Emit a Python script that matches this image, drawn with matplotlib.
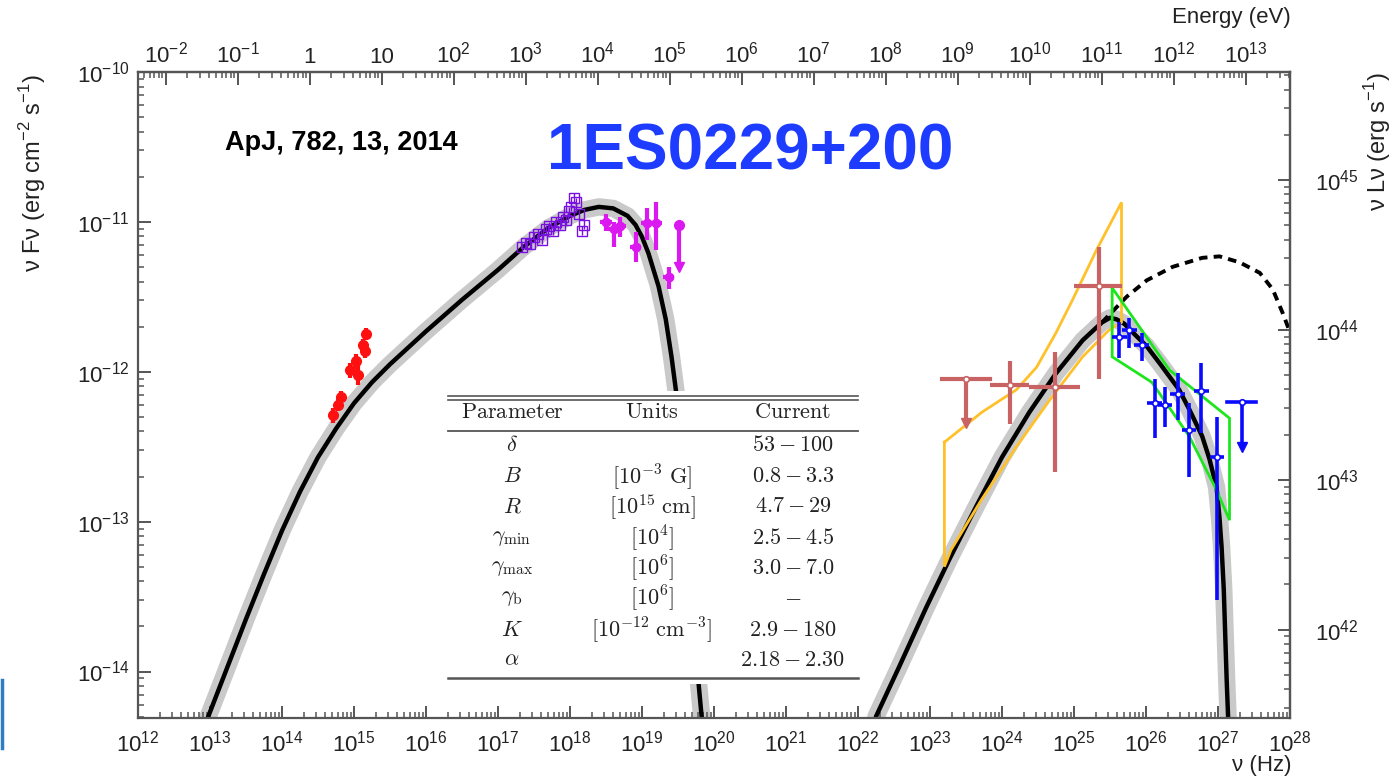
"""
SED of 1ES0229+200 (ApJ 782, 13, 2014) with one-zone SSC model curves.
"""

import numpy as np
import matplotlib.pyplot as plt
from matplotlib import font_manager
from matplotlib.lines import Line2D
from matplotlib.patches import Rectangle
from matplotlib.ticker import LogLocator, FuncFormatter, NullFormatter

_names = {f.name for f in font_manager.fontManager.ttflist}
TICK_FONT = 'Liberation Sans Narrow' if 'Liberation Sans Narrow' in _names else 'Liberation Sans'

plt.rcParams.update({
    'font.family': [TICK_FONT, 'DejaVu Sans'],
    'font.size': 16,
    'axes.linewidth': 1.6,
    'axes.edgecolor': '#555555',
    'xtick.direction': 'in',
    'ytick.direction': 'in',
    'xtick.major.size': 9,
    'xtick.minor.size': 4.5,
    'ytick.major.size': 9,
    'ytick.minor.size': 4.5,
    'xtick.major.width': 1.4,
    'xtick.minor.width': 1.1,
    'ytick.major.width': 1.4,
    'ytick.minor.width': 1.1,
    'xtick.color': '#555555',
    'ytick.color': '#555555',
    'xtick.labelcolor': '#222222',
    'ytick.labelcolor': '#222222',
})

H_EV = 4.1357e-15          # eV s, nu -> E
LUM_FACTOR = 10 ** 55.72   # 4 pi d_L^2 (cm^2), nuFnu -> nuLnu

# ---- model curves (log10 nu, log10 nuFnu) ----
SYN_LOGNU = [12.92, 13.00, 13.25, 13.50, 13.75, 14.00, 14.25, 14.50, 14.75, 15.00, 15.25,
             15.50, 15.75, 16.00, 16.50, 17.00, 17.35, 17.70, 18.00, 18.20, 18.40, 18.60,
             18.80, 18.91, 19.00, 19.09, 19.23, 19.33, 19.41, 19.47, 19.55, 19.62, 19.70,
             19.78, 19.83, 19.88]
SYN_LOGF = [-14.37, -14.27, -13.96, -13.65, -13.35, -13.06, -12.80, -12.57, -12.38, -12.21, -12.07,
            -11.95, -11.84, -11.73, -11.52, -11.32, -11.17, -11.04, -10.96, -10.92, -10.90, -10.91,
            -10.96, -11.02, -11.10, -11.21, -11.43, -11.65, -11.90, -12.12, -12.55, -13.02, -13.55,
            -14.05, -14.31, -14.65]

IC_LOGNU = [22.20, 22.25, 22.57, 22.95, 23.27, 23.64, 24.00, 24.38, 24.75, 25.12, 25.39,
            25.50, 25.59, 25.70, 25.80, 26.01, 26.20, 26.46, 26.60, 26.78, 26.88, 26.98,
            27.02, 27.05, 27.08, 27.10, 27.12, 27.14, 27.16]
IC_LOGF = [-14.60, -14.30, -13.97, -13.57, -13.25, -12.90, -12.57, -12.27, -12.01, -11.79, -11.67,
           -11.64, -11.65, -11.68, -11.73, -11.83, -11.95, -12.12, -12.25, -12.43, -12.58, -12.77,
           -12.97, -13.17, -13.45, -13.75, -14.05, -14.30, -14.55]

# intrinsic (EBL-unabsorbed) model
EBL_LOGNU = [25.39, 25.73, 26.01, 26.37, 26.78, 27.02, 27.30, 27.58, 27.76, 27.90, 28.05]
EBL_LOGF = [-11.67, -11.50, -11.39, -11.30, -11.24, -11.23, -11.27, -11.34, -11.45, -11.61, -11.80]

# ---- bow ties ----
LAT_BOW_UP_LOGNU = [23.20, 23.72, 24.20, 24.48, 24.75, 24.98, 25.31, 25.66]
LAT_BOW_UP_LOGF = [-12.47, -12.27, -12.12, -11.97, -11.74, -11.52, -11.19, -10.87]
LAT_BOW_LO_LOGNU = [23.20, 23.29, 23.72, 24.20, 24.66, 25.12, 25.49, 25.66]
LAT_BOW_LO_LOGF = [-13.30, -13.19, -12.85, -12.50, -12.19, -11.90, -11.72, -11.67]

VER_BOW_UP_LOGNU = [25.53, 26.33, 27.16]
VER_BOW_UP_LOGF = [-11.44, -11.99, -12.31]
VER_BOW_LO_LOGNU = [25.53, 26.08, 26.60, 26.98, 27.16]
VER_BOW_LO_LOGF = [-11.90, -12.07, -12.43, -12.79, -12.99]

# ---- data points ----
OPT_LOGNU = [14.71, 14.78, 14.82, 14.95, 15.03, 15.06, 15.13, 15.15, 15.17]
OPT_LOGF = [-12.29, -12.22, -12.17, -11.99, -11.93, -12.02, -11.82, -11.86, -11.75]
OPT_LOGERR = [0.05, 0.04, 0.04, 0.05, 0.05, 0.07, 0.04, 0.05, 0.04]

XRT_LOGNU = [17.33, 17.39, 17.45, 17.50, 17.56, 17.61, 17.66, 17.71, 17.76, 17.81,
             17.86, 17.90, 17.94, 17.98, 18.02, 18.06, 18.09, 18.13, 18.17, 18.20]
XRT_LOGF = [-11.17, -11.14, -11.15, -11.10, -11.08, -11.12, -11.05, -11.03, -11.06, -11.00,
            -11.02, -10.97, -10.99, -10.93, -10.90, -10.84, -10.87, -10.95, -11.06, -11.02]

BAT_LOGNU = [18.50, 18.61, 18.70, 18.91, 19.07, 19.20, 19.37]
BAT_LOGF = [-11.00, -11.05, -11.03, -11.17, -11.01, -11.01, -11.37]
BAT_LO = [-11.06, -11.17, -11.10, -11.27, -11.12, -11.19, -11.45]
BAT_HI = [-10.95, -11.00, -10.97, -11.07, -10.91, -10.87, -11.30]
BAT_UL_LOGNU = [19.52]
BAT_UL_LOGF = [-11.02]
BAT_UL_END = [-11.30]

LAT_LOGNU = [24.11, 24.74, 25.35]
LAT_LOGF = [-12.09, -12.10, -11.43]
LAT_LO = [-12.35, -12.67, -12.05]
LAT_HI = [-11.93, -11.87, -11.17]
LAT_NU_LO = [23.83, 24.38, 25.00]
LAT_NU_HI = [24.38, 25.08, 25.66]
LAT_UL_LOGNU = [23.50]
LAT_UL_LOGF = [-12.05]
LAT_UL_END = [-12.34]
LAT_UL_NU_LO = [23.17]
LAT_UL_NU_HI = [23.83]

VER_LOGNU = [25.63, 25.77, 25.94, 26.12, 26.26, 26.44, 26.60, 26.77, 26.99]
VER_LOGF = [-11.77, -11.72, -11.82, -12.21, -12.22, -12.15, -12.39, -12.13, -12.57]
VER_LO = [-11.91, -11.84, -11.93, -12.44, -12.37, -12.32, -12.70, -12.41, -13.52]
VER_HI = [-11.67, -11.64, -11.74, -12.05, -12.10, -12.01, -12.21, -11.94, -12.30]
VER_UL_LOGNU = [27.33]
VER_UL_LOGF = [-12.20]
VER_UL_END = [-12.50]

# ---- parameter table ----
TABLE_HEADER = ['Parameter', 'Units', 'Current']
PARAM_SYMBOLS = [r'$\delta$', r'$B$', r'$R$', r'$\gamma_{\rm min}$', r'$\gamma_{\rm max}$',
                 r'$\gamma_{\rm b}$', r'$K$', r'$\alpha$']
PARAM_UNITS = ['', r'$[10^{-3}\ \mathrm{G}]$', r'$[10^{15}\ \mathrm{cm}]$', r'$[10^{4}]$',
               r'$[10^{6}]$', r'$[10^{6}]$', r'$[10^{-12}\ \mathrm{cm}^{-3}]$', '']
PARAM_CURRENT = [r'$53 - 100$', r'$0.8 - 3.3$', r'$4.7 - 29$', r'$2.5 - 4.5$',
                 r'$3.0 - 7.0$', r'$\mathrm{-}$', r'$2.9 - 180$', r'$2.18 - 2.30$']

COLORS = {
    'band': '#c9c9c9',
    'opt': '#ff1010',
    'xrt': '#7a10e0',
    'bat': '#dc18f0',
    'lat': '#c96262',
    'ver': '#0a0aff',
    'lat_bow': '#ffc12a',
    'ver_bow': '#1ee61e',
    'title': '#1e3cff',
}

W, H = 1394, 778


def fx(px):
    return px / W


def fy(py):
    return 1 - py / H


def p10(v):
    return 10 ** np.asarray(v, dtype=float)


def pow_label(v, pos):
    e = int(round(np.log10(v)))
    if e == 0:
        return '1'
    if e == 1:
        return '10'
    return r'$\mathregular{10^{%d}}$' % e


def log_axis(axis):
    axis.set_major_locator(LogLocator(base=10, numticks=40))
    axis.set_minor_locator(LogLocator(base=10, subs=np.arange(2, 10), numticks=40))
    axis.set_major_formatter(FuncFormatter(pow_label))
    axis.set_minor_formatter(NullFormatter())


def errbars(ax, lognu, logf, lo, hi, nu_lo, nu_hi, ecolor, lw, zorder, **mk):
    x, y = p10(lognu), p10(logf)
    yerr = [y - p10(lo), p10(hi) - y]
    xerr = [x - p10(nu_lo), p10(nu_hi) - x]
    ax.errorbar(x, y, xerr=xerr, yerr=yerr, fmt='none', ecolor=ecolor, elinewidth=lw,
                capsize=0, zorder=zorder)
    if mk:
        ax.plot(x, y, linestyle='none', zorder=zorder + 0.1, **mk)


def upper_limits(ax, lognu, logf, end, nu_half, color, lw, zorder):
    for n, f, e in zip(lognu, logf, end):
        ax.plot([10 ** n, 10 ** n], [10 ** f, 10 ** e], color=color, lw=lw, zorder=zorder)
        ax.plot([10 ** (n - nu_half), 10 ** (n + nu_half)], [10 ** f, 10 ** f],
                color=color, lw=lw, zorder=zorder)
        ax.plot(10 ** n, 10 ** e, marker='v', ms=7, color=color, zorder=zorder)
        ax.plot(10 ** n, 10 ** f, marker='o', ms=4, mfc='white', mec=color, mew=1.2,
                zorder=zorder + 0.1)


def bowtie(ax, up_nu, up_f, lo_nu, lo_f, color, lw):
    xs = np.concatenate([p10(up_nu), p10(lo_nu)[::-1], p10(up_nu)[:1]])
    ys = np.concatenate([p10(up_f), p10(lo_f)[::-1], p10(up_f)[:1]])
    ax.plot(xs, ys, color=color, lw=lw, zorder=3, solid_joinstyle='miter')


def main():
    fig = plt.figure(figsize=(W / 100, H / 100), dpi=100)
    ax = fig.add_axes([fx(138), fy(718), fx(1290) - fx(138), fy(72) - fy(718)])
    ax.set_xscale('log')
    ax.set_yscale('log')
    ax.set_xlim(1e12, 1e28)
    ax.set_ylim(10 ** -14.31, 1e-10)

    # model curves with the gray band
    for lognu, logf in [(SYN_LOGNU, SYN_LOGF), (IC_LOGNU, IC_LOGF)]:
        ax.plot(p10(lognu), p10(logf), color=COLORS['band'], lw=12.5, zorder=1,
                solid_capstyle='butt', solid_joinstyle='round')
        ax.plot(p10(lognu), p10(logf), color='black', lw=3.2, zorder=2,
                solid_joinstyle='round')
    ax.plot(p10(EBL_LOGNU), p10(EBL_LOGF), color='black', lw=2.8, zorder=2,
            linestyle=(0, (2.2, 1.6)))

    bowtie(ax, LAT_BOW_UP_LOGNU, LAT_BOW_UP_LOGF, LAT_BOW_LO_LOGNU, LAT_BOW_LO_LOGF,
           COLORS['lat_bow'], 2.0)
    bowtie(ax, VER_BOW_UP_LOGNU, VER_BOW_UP_LOGF, VER_BOW_LO_LOGNU, VER_BOW_LO_LOGF,
           COLORS['ver_bow'], 2.0)

    # optical
    x, y = p10(OPT_LOGNU), p10(OPT_LOGF)
    e = np.asarray(OPT_LOGERR)
    ax.errorbar(x, y, yerr=[y - y / 10 ** e, y * 10 ** e - y], fmt='o', ms=7,
                color=COLORS['opt'], elinewidth=3, capsize=0, zorder=5)

    # X-ray
    x, y = p10(XRT_LOGNU), p10(XRT_LOGF)
    ax.errorbar(x, y, yerr=[y - y / 10 ** 0.03, y * 10 ** 0.03 - y], fmt='s', ms=6.5,
                mfc='none', mec=COLORS['xrt'], mew=1.0, ecolor=COLORS['xrt'],
                elinewidth=1.0, capsize=0, zorder=5)

    # hard X-ray
    errbars(ax, BAT_LOGNU, BAT_LOGF, BAT_LO, BAT_HI,
            np.asarray(BAT_LOGNU) - 0.08, np.asarray(BAT_LOGNU) + 0.08,
            COLORS['bat'], 3, 5, marker='o', ms=6, color=COLORS['bat'])
    for n, f, en in zip(BAT_UL_LOGNU, BAT_UL_LOGF, BAT_UL_END):
        ax.plot([10 ** n] * 2, [10 ** f, 10 ** en], color=COLORS['bat'], lw=3, zorder=5)
        ax.plot(10 ** n, 10 ** f, marker='o', ms=7, color=COLORS['bat'], zorder=5)
        ax.plot(10 ** n, 10 ** en, marker='v', ms=7, color=COLORS['bat'], zorder=5)

    # Fermi-LAT
    errbars(ax, LAT_LOGNU, LAT_LOGF, LAT_LO, LAT_HI, LAT_NU_LO, LAT_NU_HI,
            COLORS['lat'], 3, 5, marker='o', ms=4, mfc='white', mec=COLORS['lat'], mew=1.2)
    for n, f, en, a, b in zip(LAT_UL_LOGNU, LAT_UL_LOGF, LAT_UL_END, LAT_UL_NU_LO, LAT_UL_NU_HI):
        ax.plot([10 ** a, 10 ** b], [10 ** f] * 2, color=COLORS['lat'], lw=3, zorder=5)
        ax.plot([10 ** n] * 2, [10 ** f, 10 ** en], color=COLORS['lat'], lw=3, zorder=5)
        ax.plot(10 ** n, 10 ** en, marker='v', ms=7, color=COLORS['lat'], zorder=5)
        ax.plot(10 ** n, 10 ** f, marker='o', ms=4, mfc='white', mec=COLORS['lat'],
                mew=1.2, zorder=5.1)

    # VHE
    errbars(ax, VER_LOGNU, VER_LOGF, VER_LO, VER_HI,
            np.asarray(VER_LOGNU) - 0.1, np.asarray(VER_LOGNU) + 0.1,
            COLORS['ver'], 2.6, 6, marker='o', ms=4, mfc='white', mec=COLORS['ver'], mew=1.2)
    upper_limits(ax, VER_UL_LOGNU, VER_UL_LOGF, VER_UL_END, 0.2, COLORS['ver'], 2.6, 6)

    # axes, ticks
    log_axis(ax.xaxis)
    log_axis(ax.yaxis)
    ax.tick_params(which='both', top=False, right=False)
    ax.tick_params(axis='x', which='major', pad=9, labelsize=16)
    ax.tick_params(axis='y', which='major', pad=6, labelsize=16)

    secx = ax.secondary_xaxis('top', functions=(lambda v: v * H_EV, lambda v: v / H_EV))
    log_axis(secx.xaxis)
    secx.tick_params(which='both', direction='in')
    secx.tick_params(which='major', pad=3, labelsize=16)

    secy = ax.secondary_yaxis('right', functions=(lambda v: v * LUM_FACTOR,
                                                  lambda v: v / LUM_FACTOR))
    log_axis(secy.yaxis)
    secy.tick_params(which='both', direction='in')
    secy.tick_params(which='major', pad=18, labelsize=16)

    # axis titles
    fig.text(fx(33), fy(173), r'ν Fν (erg cm$^{\mathregular{-2}}$ s$^{\mathregular{-1}}$)',
             rotation=90, ha='center', va='center', fontsize=17, color='#222222')
    fig.text(fx(1378), fy(142), r'ν Lν (erg s$^{\mathregular{-1}}$)',
             rotation=90, ha='center', va='center', fontsize=17, color='#222222')
    fig.text(fx(1291), fy(18), 'Energy (eV)', ha='right', va='center', fontsize=16,
             color='#222222')
    fig.text(fx(1292), fy(766), 'ν (Hz)', ha='right', va='center', fontsize=16,
             color='#222222')

    # annotations
    fig.text(fx(225), fy(143), 'ApJ, 782, 13, 2014', ha='left', va='center',
             fontsize=19.5, fontweight='bold', family='Liberation Sans', color='black')
    fig.text(fx(750), fy(152), '1ES0229+200', ha='center', va='center',
             fontsize=46, fontweight='bold', family='Liberation Sans', color=COLORS['title'])

    # parameter table (white panel over the plot)
    fig.patches.append(Rectangle((fx(446), fy(684)), fx(860) - fx(446), fy(391) - fy(684),
                                 transform=fig.transFigure, facecolor='white',
                                 edgecolor='none', zorder=8))
    for py, lw in [(396, 1.2), (400, 1.2), (431, 1.3), (678, 1.8)]:
        fig.add_artist(Line2D([fx(448), fx(858)], [fy(py)] * 2, color='#555555', lw=lw,
                              zorder=9))
    col_x = [512, 652, 793]
    tkw = dict(ha='center', va='center', fontsize=16, math_fontfamily='cm',
               color='#222222', zorder=10)
    for cx, head in zip(col_x, TABLE_HEADER):
        fig.text(fx(cx), fy(413), r'$\mathrm{%s}$' % head, **tkw)
    row_y = [445, 477, 507, 538, 568, 598, 630, 660]
    for ry, sym, unit, cur in zip(row_y, PARAM_SYMBOLS, PARAM_UNITS, PARAM_CURRENT):
        fig.text(fx(col_x[0]), fy(ry), sym, **tkw)
        if unit:
            fig.text(fx(col_x[1]), fy(ry), unit, **tkw)
        fig.text(fx(col_x[2]), fy(ry), cur, **tkw)

    # slide artefact at the left edge
    fig.add_artist(Line2D([fx(2)] * 2, [fy(680), fy(748)], color='#2f7cc0', lw=2.5))

    fig.savefig('out.png', dpi=100)


if __name__ == '__main__':
    main()
